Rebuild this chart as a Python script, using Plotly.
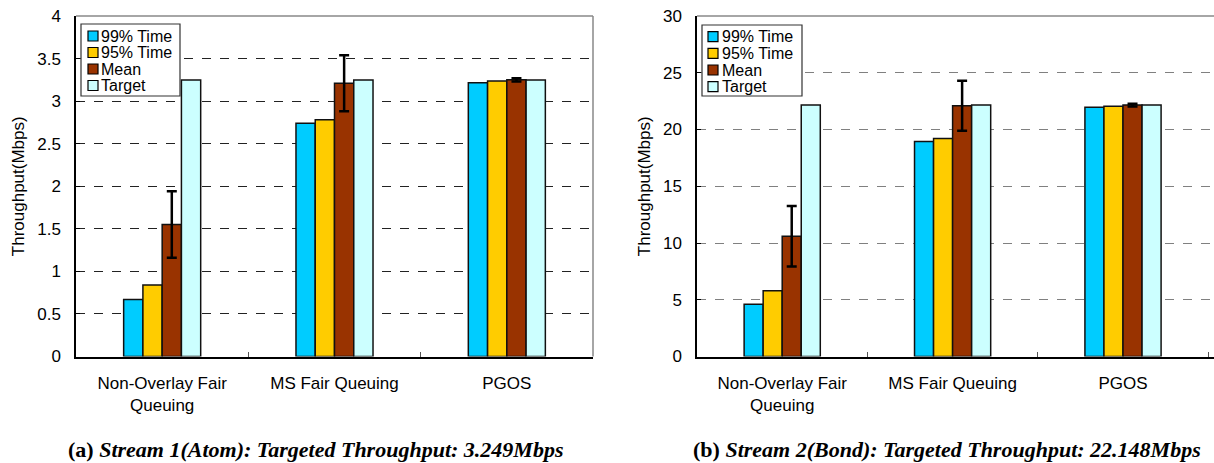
import plotly.graph_objects as go

categories = ["Non-Overlay Fair<br>Queuing", "MS Fair Queuing", "PGOS"]
series_names = ["99% Time", "95% Time", "Mean", "Target"]
colors = ["#00CCFF", "#FFCC00", "#993300", "#CCFFFF"]

# Panel (a): Stream 1 (Atom)
a_p99 = [0.67, 2.74, 3.215]
a_p95 = [0.84, 2.78, 3.235]
a_mean = [1.55, 3.21, 3.25]
a_mean_err = [0.39, 0.33, 0.02]
a_target = [3.249, 3.249, 3.249]

# Panel (b): Stream 2 (Bond)
b_p99 = [4.6, 18.95, 21.96]
b_p95 = [5.8, 19.2, 22.05]
b_mean = [10.6, 22.1, 22.15]
b_mean_err = [2.66, 2.2, 0.12]
b_target = [22.148, 22.148, 22.148]

a_ticks = [0, 0.5, 1, 1.5, 2, 2.5, 3, 3.5, 4]
b_ticks = [0, 5, 10, 15, 20, 25, 30]

captions = ["<b>(a) <i>Stream 1(Atom): Targeted Throughput: 3.249Mbps</i></b>",
            "<b>(b) <i>Stream 2(Bond): Targeted Throughput: 22.148Mbps</i></b>"]

W, H = 1214, 463
SANS = "Liberation Sans, Arial, sans-serif"
SERIF = "Liberation Serif, Times New Roman, serif"

def px(x):
    return x / W

def py(y):
    return (H - y) / H

fig = go.Figure()

def add_panel(vals, err, xa, ya):
    for i, (name, v) in enumerate(zip(series_names, vals)):
        kw = {}
        if name == "Mean":
            kw["error_y"] = dict(type="data", array=err, visible=True,
                                 color="black", thickness=2.5, width=5)
        fig.add_trace(go.Bar(
            x=categories, y=v, name=name, xaxis=xa, yaxis=ya, showlegend=False,
            marker=dict(color=colors[i], line=dict(color="#111111", width=1.5)),
            **kw))

add_panel([a_p99, a_p95, a_mean, a_target], a_mean_err, "x", "y")
add_panel([b_p99, b_p95, b_mean, b_target], b_mean_err, "x2", "y2")

ydom = [py(356.5), py(16)]
xdomA = [px(76), px(593)]
xdomB = [px(697), 1.0]

xcommon = dict(type="category", showline=True, linecolor="black", linewidth=1.5,
               ticks="inside", tickson="boundaries", ticklen=5, tickcolor="#555555",
               tickfont=dict(family=SANS, size=17, color="black"),
               ticklabelstandoff=10, showgrid=False, zeroline=False)
ycommon = dict(showline=True, linecolor="black", linewidth=1.5, ticks="inside",
               ticklen=4, tickcolor="black",
               tickfont=dict(family=SANS, size=17, color="black"),
               ticklabelstandoff=10, zeroline=False, showgrid=True,
               griddash="dash", gridwidth=1)
ytitle = dict(text="Throughput(Mbps)", font=dict(family=SANS, size=17, color="black"),
              standoff=8)

fig.update_layout(
    template="none",
    width=W, height=H,
    margin=dict(l=0, r=0, t=0, b=0),
    paper_bgcolor="white", plot_bgcolor="white",
    barmode="group", bargap=0.553, bargroupgap=0,
    showlegend=False,
    xaxis=dict(domain=xdomA, range=[-0.5, 2.5], anchor="y", **xcommon),
    yaxis=dict(domain=ydom, range=[0, 4], tickvals=a_ticks, anchor="x",
               gridcolor="#222222", title=ytitle, **ycommon),
    xaxis2=dict(domain=xdomB, range=[-0.5, 2.534], anchor="y2", **xcommon),
    yaxis2=dict(domain=ydom, range=[0, 30], tickvals=b_ticks, anchor="x2",
                gridcolor="#808080", title=ytitle, **ycommon),
)

# frame lines (top/right) in gray
fig.add_shape(type="line", xref="paper", yref="paper", x0=xdomA[0], x1=xdomA[1],
              y0=ydom[1], y1=ydom[1], line=dict(color="#888888", width=1.5))
fig.add_shape(type="line", xref="paper", yref="paper", x0=xdomA[1], x1=xdomA[1],
              y0=ydom[0], y1=ydom[1], line=dict(color="#888888", width=1.5))
fig.add_shape(type="line", xref="paper", yref="paper", x0=xdomB[0], x1=xdomB[1],
              y0=ydom[1], y1=ydom[1], line=dict(color="#888888", width=1.5))

# compact legends (box, swatches, labels)
def add_legend(x0, y0, x1, y1, sq_x, text_x, rows):
    fig.add_shape(type="rect", xref="paper", yref="paper",
                  x0=px(x0), x1=px(x1), y0=py(y1), y1=py(y0),
                  fillcolor="white", line=dict(color="#333333", width=1.2))
    for name, col, cy in zip(series_names, colors, rows):
        fig.add_shape(type="rect", xref="paper", yref="paper",
                      x0=px(sq_x), x1=px(sq_x + 10), y0=py(cy + 5), y1=py(cy - 5),
                      fillcolor=col, line=dict(color="black", width=1.2))
        fig.add_annotation(text=name, xref="paper", yref="paper",
                           x=px(text_x), y=py(cy), xanchor="left", yanchor="middle",
                           showarrow=False, borderpad=0,
                           font=dict(family=SANS, size=16, color="black"))

add_legend(81, 24, 180, 96, 88, 100, [36, 52.5, 69, 85.5])
add_legend(702, 25, 802, 96, 708, 721, [36.7, 53.3, 70, 86.7])

for cap, cx in zip(captions, [315, 947]):
    fig.add_annotation(text=cap, xref="paper", yref="paper", x=px(cx), y=py(449),
                       xanchor="center", yanchor="middle", showarrow=False,
                       font=dict(family=SERIF, size=22, color="black"))

fig.write_html("out.html")
